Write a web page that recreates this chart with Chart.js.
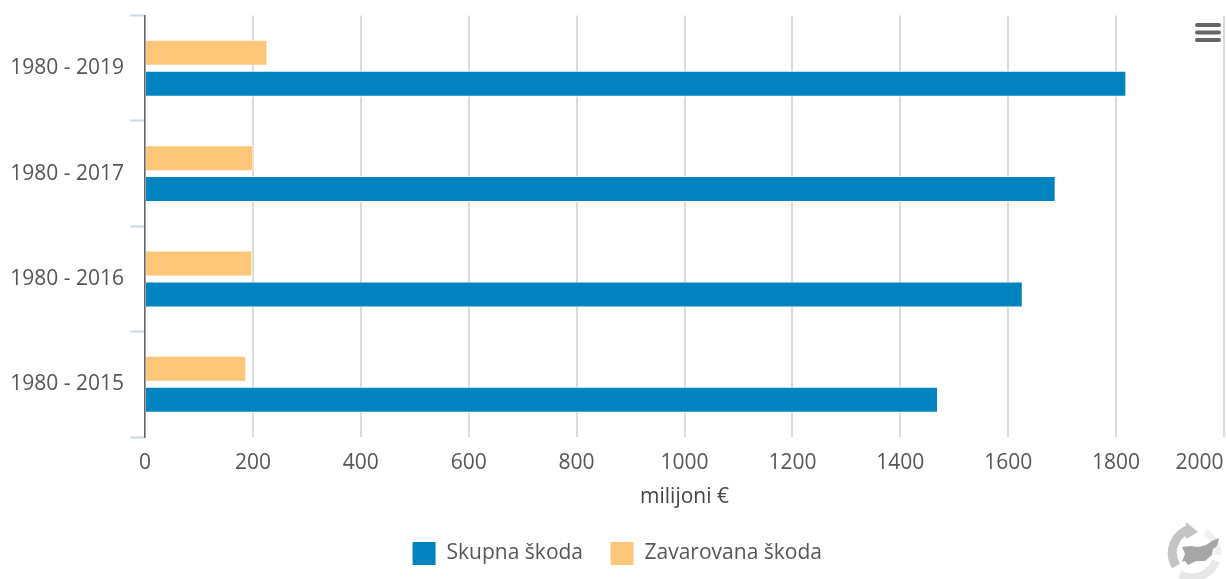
<!DOCTYPE html>
<html>
<head>
<meta charset="utf-8">
<script src="https://cdn.jsdelivr.net/npm/chart.js@4"></script>
<style>
html,body{margin:0;padding:0;background:#fff;overflow:hidden}
#wrap{position:relative;width:1226px;height:579px}
canvas{display:block}
svg{position:absolute}
</style>
</head>
<body>
<div id="wrap">
<canvas id="c" width="1226" height="579"></canvas>
<svg style="left:1190px;top:20px" width="34" height="26"><g stroke="#666" stroke-width="4" stroke-linecap="round"><line x1="7" y1="5" x2="29" y2="5"/><line x1="7" y1="12.5" x2="29" y2="12.5"/><line x1="7" y1="20" x2="29" y2="20"/></g></svg>
<svg style="left:1165px;top:520px" width="61" height="59" viewBox="1165 520 61 59">
<path d="M1176 566 A25 25 0 0 1 1190 529" fill="none" stroke="#c4c4c4" stroke-width="9"/>
<path d="M1186 522 L1198 532 L1186 539 Z" fill="#c4c4c4"/>
<path d="M1205 532 A25 25 0 0 1 1218 555" fill="none" stroke="#f0f0f0" stroke-width="7"/>
<path d="M1216 561 A25 25 0 0 1 1180 574" fill="none" stroke="#e8e8e8" stroke-width="8"/>
<path d="M1182 547 L1190 546 L1198 547 L1206 545 L1212 541 L1219 538 L1217 546 L1213 549 L1212 555 L1205 561 L1196 561 L1188 565 L1185 561 L1182 562 L1185 554 Z" fill="#a6a6a6"/>
</svg>
</div>
<script>
const categories = ['1980 - 2019', '1980 - 2017', '1980 - 2016', '1980 - 2015'];
const skupnaSkoda = [1819, 1688, 1627, 1470];
const zavarovanaSkoda = [227, 201, 199, 188];
const seriesNames = ['Skupna škoda', 'Zavarovana škoda'];
const axisTitle = 'milijoni €';
const FONT = '"Open Sans"';
const TXT = '#555';

new Chart(document.getElementById('c'), {
  type: 'bar',
  data: {
    labels: categories,
    datasets: [
      { label: seriesNames[0], data: skupnaSkoda, order: 2, backgroundColor: '#0083bf', borderColor: '#ffffff', borderWidth: 1 },
      { label: seriesNames[1], data: zavarovanaSkoda, order: 1, backgroundColor: '#fec679', borderColor: '#ffffff', borderWidth: 1 }
    ]
  },
  options: {
    indexAxis: 'y',
    responsive: false,
    animation: false,
    devicePixelRatio: 1,
    categoryPercentage: 0.588,
    barPercentage: 0.84,
    layout: { padding: { left: 10, right: 2, top: 15.6, bottom: 3.5 } },
    plugins: {
      tooltip: { enabled: false },
      legend: {
        position: 'bottom',
        onClick: null,
        labels: {
          boxWidth: 24, boxHeight: 24, padding: 27, color: TXT,
          font: { family: FONT, size: 21 },
          sort: (a, b) => a.datasetIndex - b.datasetIndex
        }
      }
    },
    scales: {
      x: {
        type: 'linear', min: 0, max: 2000,
        afterFit(s) { s.height = 77.5; s.paddingLeft = 0; s.paddingRight = 0; },
        ticks: {
          stepSize: 200, maxRotation: 0, autoSkip: false, padding: 13, color: TXT,
          font: { family: FONT, size: 21 },
          callback: v => v === 2000 ? '2000' + '\u00a0'.repeat(9) : String(v)
        },
        grid: { color: '#dadada', lineWidth: 2, drawTicks: false },
        border: { display: false },
        title: {
          display: true, text: axisTitle, color: '#444',
          font: { family: FONT, size: 21 }, padding: { top: 0, bottom: 4.5 }
        }
      },
      y: {
        type: 'category',
        afterFit(s) { s.width = 135; s.paddingTop = 0; s.paddingBottom = 0; },
        ticks: { padding: 6, color: TXT, font: { family: FONT, size: 21 } },
        grid: { display: true, offset: true, drawOnChartArea: false, drawTicks: true, tickLength: 15, tickColor: '#ccd6eb', tickWidth: 2 },
        border: { display: true, color: '#666666', width: 1.5 }
      }
    }
  }
});
</script>
</body>
</html>
